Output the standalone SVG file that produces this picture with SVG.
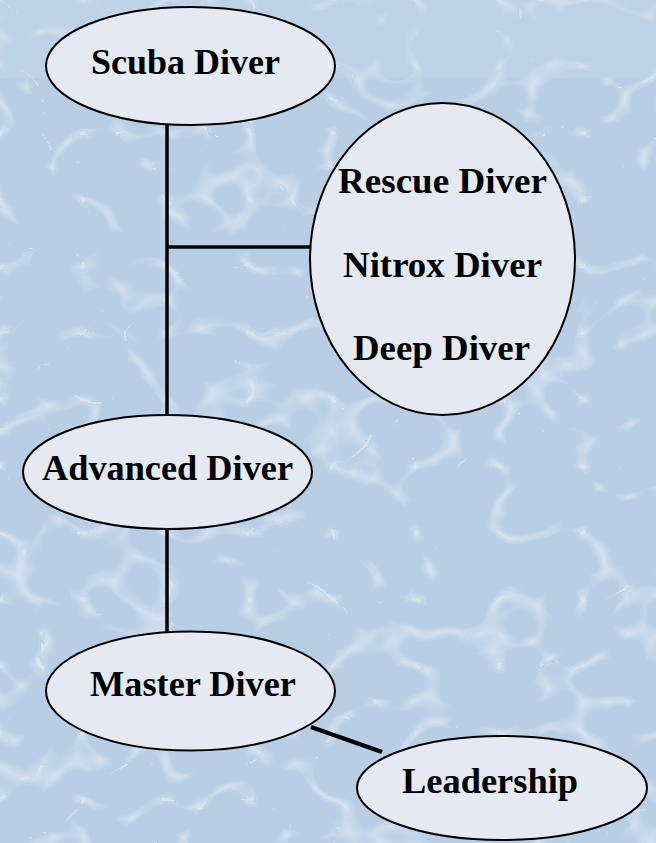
<svg xmlns="http://www.w3.org/2000/svg" width="656" height="843" viewBox="0 0 656 843">
  <defs>
    <filter id="caustic" x="0" y="0" width="100%" height="100%" filterUnits="userSpaceOnUse">
      <feTurbulence type="turbulence" baseFrequency="0.012 0.015" numOctaves="2" seed="7" result="t"/>
      <feColorMatrix in="t" type="matrix" values="0 0 0 0 1  0 0 0 0 1  0 0 0 0 1  -7 0 0 0 1"/>
      <feComponentTransfer><feFuncA type="linear" slope="0.4"/></feComponentTransfer>
    </filter>
    <style>
      .node ellipse { fill: #e5eaf2; stroke: #000; stroke-width: 2; }
      .node text { font-family: "Liberation Serif", "Times New Roman", serif; font-weight: bold; font-size: 36px; fill: #000; text-anchor: middle; }
      .conn line { stroke: #000; stroke-width: 3.5; }
    </style>
  </defs>
  <rect x="0" y="0" width="656" height="843" fill="#b9cee5"/>
  <rect x="0" y="0" width="656" height="843" filter="url(#caustic)"/>
  <rect x="0" y="0" width="656" height="78" fill="#c6d8eb" opacity="0.3"/>

  <g id="connectors" class="conn">
    <line x1="167" y1="124" x2="167" y2="416"/>
    <line x1="167" y1="247" x2="311" y2="247"/>
    <line x1="167" y1="528" x2="167" y2="633"/>
    <line x1="311" y1="727" x2="382" y2="752" style="stroke-width:4.5"/>
  </g>

  <g id="scuba" class="node">
    <ellipse cx="190.5" cy="66" rx="144.5" ry="59"/>
    <text x="185.5" y="74">Scuba Diver</text>
  </g>
  <g id="specialties" class="node">
    <ellipse cx="442.5" cy="259" rx="132.5" ry="156"/>
    <text x="442.5" y="193" textLength="209" lengthAdjust="spacingAndGlyphs">Rescue Diver</text>
    <text x="442.5" y="277" textLength="199" lengthAdjust="spacingAndGlyphs">Nitrox Diver</text>
    <text x="441.5" y="360" textLength="177" lengthAdjust="spacingAndGlyphs">Deep Diver</text>
  </g>
  <g id="advanced" class="node">
    <ellipse cx="167.5" cy="472" rx="144.5" ry="57"/>
    <text x="167.5" y="480" textLength="251" lengthAdjust="spacingAndGlyphs">Advanced Diver</text>
  </g>
  <g id="master" class="node">
    <ellipse cx="190.5" cy="691" rx="144.5" ry="59.5"/>
    <text x="193" y="696" textLength="206" lengthAdjust="spacingAndGlyphs">Master Diver</text>
  </g>
  <g id="leadership" class="node">
    <ellipse cx="502" cy="788" rx="145" ry="52"/>
    <text x="490" y="793" textLength="176" lengthAdjust="spacingAndGlyphs">Leadership</text>
  </g>
</svg>
